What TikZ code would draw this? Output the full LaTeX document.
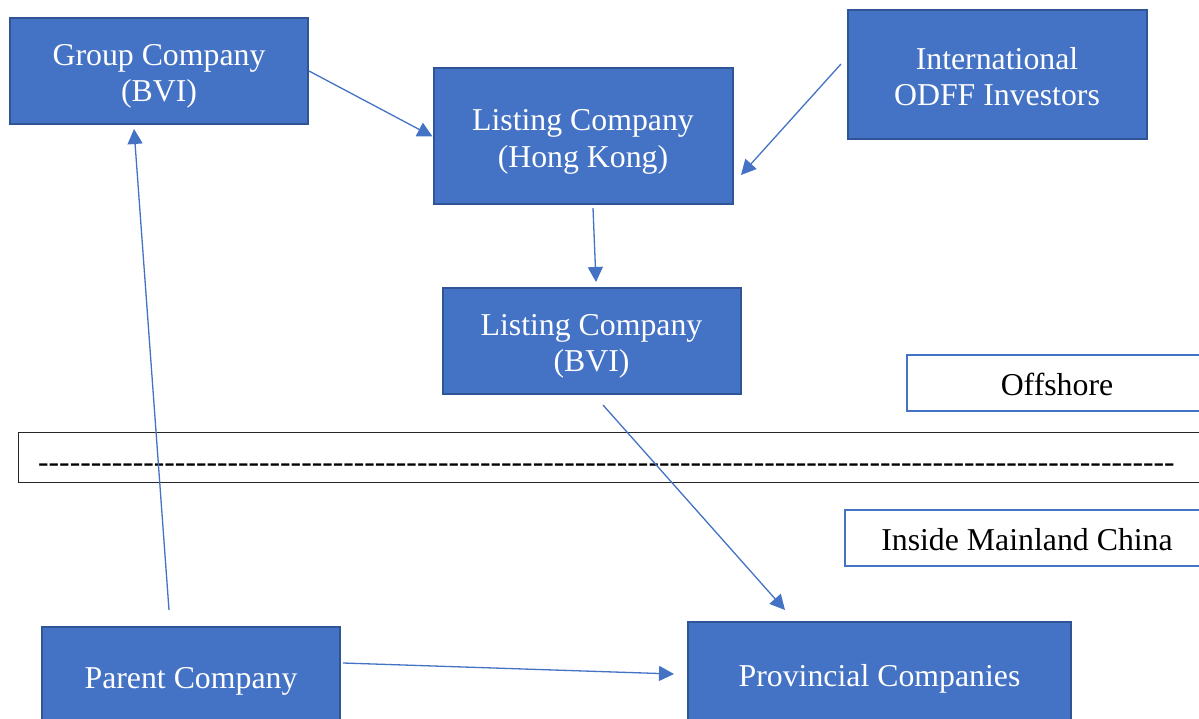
\documentclass[tikz,border=0pt]{standalone}
\usepackage{fontspec}
\setmainfont{Liberation Serif}
\usetikzlibrary{arrows.meta,calc}
\definecolor{boxfill}{HTML}{4472C4}
\definecolor{boxedge}{HTML}{2F5597}
% box text, set a little below the optical centre
\newcommand\boxtext[1]{\raisebox{-5pt}[\height][\depth]{%
  \begin{tabular}{@{}c@{}}#1\end{tabular}}}
\newcount\dashcount
\newcommand\dashrow[1]{\dashcount=0
  \loop\ifnum\dashcount<#1 -{}\advance\dashcount by 1 \repeat}
\tikzset{
  entity/.style={rectangle, fill=boxfill, draw=boxedge, line width=2pt,
    text=white, inner sep=0pt,
    font=\fontsize{31.8}{36.5}\selectfont},
  region/.style={rectangle, fill=white, draw=boxfill, line width=2pt,
    text=black, inner sep=0pt, font=\fontsize{31.8}{36.5}\selectfont},
  sepbox/.style={rectangle, draw=black!85, line width=1pt, inner sep=0pt},
  link/.style={draw=boxfill, line width=1.3pt,
    -{Triangle[length=15pt,width=15pt]}}
}
\begin{document}
\begin{tikzpicture}[x=1pt,y=-1pt]
\path[use as bounding box, clip] (0,0) rectangle (1199,719);
\fill[white] (0,0) rectangle (1199,719);

% ownership entities
\node[entity, minimum width=298pt, minimum height=106pt] (grp) at (159,71)
  {\boxtext{Group Company\\(BVI)}};
\node[entity, minimum width=299pt, minimum height=136pt] (hk) at (583,136.5)
  {\boxtext{Listing Company\\(Hong Kong)}};
\node[entity, minimum width=299pt, minimum height=129pt] (odff) at (997,75)
  {\boxtext{International\\ODFF Investors}};
\node[entity, minimum width=298pt, minimum height=105pt] (bvi) at (591.5,341)
  {\boxtext{Listing Company\\(BVI)}};
\node[entity, minimum width=298pt, minimum height=98pt] (par) at (191,676)
  {\boxtext{Parent Company}};
\node[entity, minimum width=383pt, minimum height=104pt] (prov) at (879.5,674)
  {\boxtext{Provincial Companies}};

% jurisdiction labels and the border line
\node[region, minimum width=300pt, minimum height=56pt] (off) at (1057,383)
  {\boxtext{Offshore}};
\node[sepbox, minimum width=1202pt, minimum height=50pt] (sep) at (619,457) {};
\node[anchor=base west, inner sep=0pt, font=\fontsize{31.6}{36.5}\selectfont]
  (line) at (38,472) {\dashrow{108}};
\node[region, minimum width=364pt, minimum height=56pt] (inside) at (1027,538)
  {\boxtext{Inside Mainland China}};

% ownership links
\draw[link] (grp.east) -- (hk.west);
\draw[link] ($(odff.west)+(-5.5,-11)$) -- ($(hk.east)+(7.5,38.5)$);
\draw[link] ($(hk.south)+(10,2.5)$) -- ($(bvi.north)+(4.5,-5.5)$);
\draw[link] ($(bvi.south)+(11.5,10.5)$) -- ($(prov.north)+(-94.5,-11)$);
\draw[link] ($(par.north)+(-22,-16)$) -- ($(grp.south)+(-25,4)$);
\draw[link] ($(par.east)+(2,-13)$) -- ($(prov.west)+(-13,0)$);
\end{tikzpicture}
\end{document}
